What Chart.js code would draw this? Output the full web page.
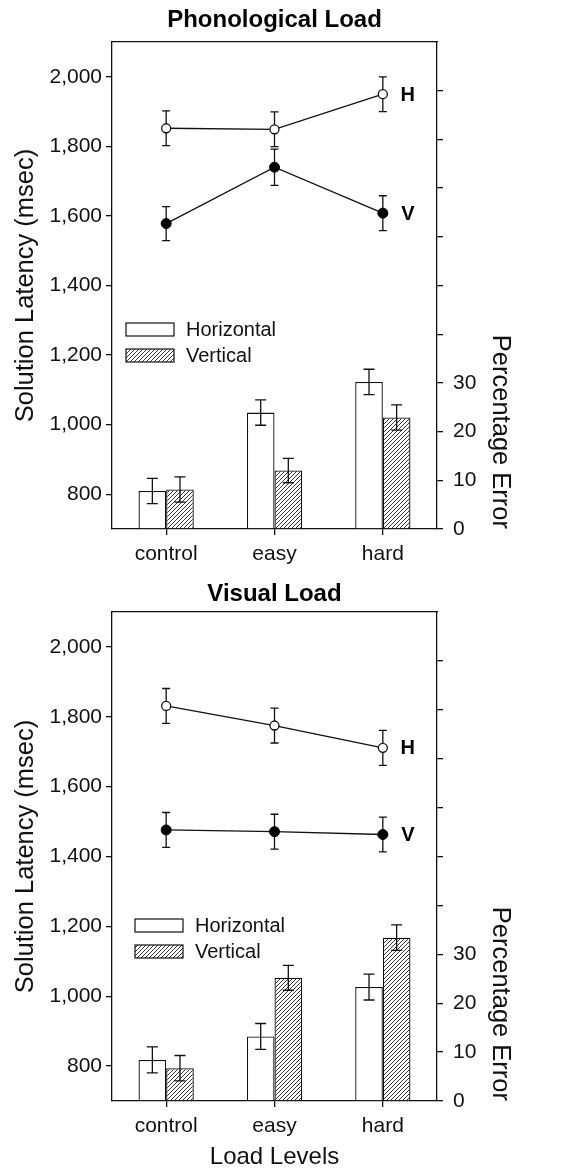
<!DOCTYPE html>
<html>
<head>
<meta charset="utf-8">
<script src="https://cdn.jsdelivr.net/npm/chart.js@4.4.1/dist/chart.umd.min.js"></script>
<style>
  html, body { margin: 0; padding: 0; background: #fff; }
  .panel { position: absolute; left: 0; width: 566px; }
  #top { top: 0; height: 575px; }
  #bottom { top: 575px; height: 598px; }
</style>
</head>
<body>
<div class="panel" id="top"><canvas id="phon" width="566" height="575"></canvas></div>
<div class="panel" id="bottom"><canvas id="vis" width="566" height="598"></canvas></div>
<script>
const CATEGORIES = ['control', 'easy', 'hard'];
const LATENCY_TICKS = [800, 1000, 1200, 1400, 1600, 1800, 2000];
const ERROR_TICKS = [0, 10, 20, 30, 40, 50, 60, 70, 80, 90];
const ERROR_LABELED = [0, 10, 20, 30];

// phonological load: latency (msec) and % error, with error bar half-widths
const PHON_LAT_H = [1852, 1849, 1950];
const PHON_LAT_H_SE = [50, 50, 50];
const PHON_LAT_V = [1578, 1740, 1608];
const PHON_LAT_V_SE = [49, 52, 50];
const PHON_ERR_H = [7.8, 23.9, 30.2];
const PHON_ERR_H_SE = [2.6, 2.6, 2.6];
const PHON_ERR_V = [8.1, 12.0, 22.9];
const PHON_ERR_V_SE = [2.6, 2.5, 2.6];

// visual load
const VIS_LAT_H = [1831, 1775, 1711];
const VIS_LAT_H_SE = [50, 50, 50];
const VIS_LAT_V = [1476, 1471, 1463];
const VIS_LAT_V_SE = [50, 50, 50];
const VIS_ERR_H = [8.4, 13.2, 23.3];
const VIS_ERR_H_SE = [2.65, 2.65, 2.65];
const VIS_ERR_V = [6.7, 25.2, 33.4];
const VIS_ERR_V_SE = [2.6, 2.55, 2.6];

const FONT = '"Liberation Sans", Arial, Helvetica, sans-serif';
const INK = '#111';
Chart.defaults.font.family = FONT;
Chart.defaults.color = INK;

function hatch(ctx) {
  const c = document.createElement('canvas');
  c.width = 4; c.height = 4;
  const g = c.getContext('2d');
  g.fillStyle = '#fff';
  g.fillRect(0, 0, 4, 4);
  g.strokeStyle = '#222';
  g.lineWidth = 0.9;
  g.beginPath();
  g.moveTo(-1, 5); g.lineTo(5, -1);
  g.moveTo(-1, 1); g.lineTo(1, -1);
  g.moveTo(3, 5); g.lineTo(5, 3);
  g.stroke();
  return ctx.createPattern(c, 'repeat');
}

function drawErr(chart, index, cap) {
  const ds = chart.data.datasets[index];
  if (!ds.errors) return;
  const meta = chart.getDatasetMeta(index);
  const scale = chart.scales[meta.yAxisID];
  const ctx = chart.ctx;
  ctx.save();
  ctx.strokeStyle = INK;
  ctx.lineWidth = 1.3;
  meta.data.forEach((el, i) => {
    const v = ds.data[i], e = ds.errors[i];
    const y1 = scale.getPixelForValue(v + e);
    const y2 = scale.getPixelForValue(v - e);
    ctx.beginPath();
    ctx.moveTo(el.x, y1); ctx.lineTo(el.x, y2);
    ctx.moveTo(el.x - cap / 2, y1); ctx.lineTo(el.x + cap / 2, y1);
    ctx.moveTo(el.x - cap / 2, y2); ctx.lineTo(el.x + cap / 2, y2);
    ctx.stroke();
  });
  ctx.restore();
}

// whiskers behind the line markers, on top of the bars
const errorBars = {
  id: 'errorBars',
  beforeDatasetDraw(chart, args) { if (args.meta.type === 'line') drawErr(chart, args.index, 8); },
  afterDatasetDraw(chart, args) { if (args.meta.type === 'bar') drawErr(chart, args.index, 11); }
};

// "H" / "V" next to the last point of each line
const endLabels = {
  id: 'endLabels',
  afterDatasetsDraw(chart) {
    const ctx = chart.ctx;
    chart.data.datasets.forEach((ds, i) => {
      if (!ds.endLabel) return;
      const meta = chart.getDatasetMeta(i);
      const p = meta.data[meta.data.length - 1];
      ctx.save();
      ctx.font = 'bold 20px ' + FONT;
      ctx.fillStyle = '#000';
      ctx.textAlign = 'center';
      ctx.textBaseline = 'middle';
      ctx.fillText(ds.endLabel, p.x + 25, p.y + 1);
      ctx.restore();
    });
  }
};

// legend for the bar series only, inside the plot
const boxLegend = {
  id: 'boxLegend',
  afterDraw(chart, args, opts) {
    const ctx = chart.ctx;
    const { left, top } = chart.chartArea;
    let y = top + opts.y;
    chart.data.datasets.forEach(ds => {
      if (ds.type !== 'bar') return;
      ctx.save();
      ctx.fillStyle = ds.backgroundColor;
      ctx.fillRect(left + opts.x, y, 48, 13);
      ctx.strokeStyle = INK;
      ctx.lineWidth = 1.2;
      ctx.strokeRect(left + opts.x, y, 48, 13);
      ctx.font = '20px ' + FONT;
      ctx.fillStyle = INK;
      ctx.textBaseline = 'middle';
      ctx.fillText(ds.label, left + opts.x + 60, y + 7);
      ctx.restore();
      y += 26;
    });
  }
};

function makeChart(id, p) {
  const ctx = document.getElementById(id).getContext('2d');
  const axisLine = { display: true, color: INK, width: 1.3 };
  return new Chart(ctx, {
    type: 'bar',
    data: {
      labels: CATEGORIES,
      datasets: [
        { type: 'line', label: 'H', endLabel: 'H', data: p.latH, errors: p.latHSe, xAxisID: 'x', yAxisID: 'y',
          borderColor: INK, borderWidth: 1.3, pointRadius: 4.5, pointBackgroundColor: '#fff',
          pointBorderColor: INK, pointBorderWidth: 1.3 },
        { type: 'line', label: 'V', endLabel: 'V', data: p.latV, errors: p.latVSe, xAxisID: 'x', yAxisID: 'y',
          borderColor: INK, borderWidth: 1.3, pointRadius: 5, pointBackgroundColor: '#000',
          pointBorderColor: '#000', pointBorderWidth: 1 },
        { type: 'bar', label: 'Horizontal', data: p.errH, errors: p.errHSe, xAxisID: 'x', yAxisID: 'y1',
          backgroundColor: '#fff', borderColor: INK, borderWidth: 1.3,
          categoryPercentage: 0.51, barPercentage: 1 },
        { type: 'bar', label: 'Vertical', data: p.errV, errors: p.errVSe, xAxisID: 'x', yAxisID: 'y1',
          backgroundColor: hatch(ctx), borderColor: INK, borderWidth: 1.3,
          categoryPercentage: 0.51, barPercentage: 1 }
      ]
    },
    options: {
      responsive: false,
      animation: false,
      layout: { padding: 0, autoPadding: false },
      plugins: {
        legend: { display: false },
        tooltip: { enabled: false },
        boxLegend: p.legend
      },
      scales: {
        x: {
          position: 'bottom', offset: true,
          grid: { display: true, drawOnChartArea: false, offset: false, tickLength: 6, color: INK, lineWidth: 1.3 },
          border: axisLine,
          ticks: { font: { size: 21 }, color: INK, padding: 7, maxRotation: 0 },
          title: { display: !!p.xTitle, text: p.xTitle || '', font: { size: 24 }, color: INK, padding: { top: 0, bottom: p.xTitlePad || 0 } },
          afterFit: s => { s.height = p.bottomH; }
        },
        xTop: {
          type: 'category', position: 'top', offset: true,
          grid: { display: false },
          ticks: { display: false },
          border: axisLine,
          title: { display: true, text: p.title, font: { size: 24, weight: 'bold' }, color: '#000', padding: { top: p.titlePad, bottom: 0 } },
          afterFit: s => { s.height = p.topH; }
        },
        y: {
          position: 'left', min: 700, max: 2100,
          afterBuildTicks: s => { s.ticks = LATENCY_TICKS.map(v => ({ value: v })); },
          grid: { display: true, drawOnChartArea: false, tickLength: 6, color: INK, lineWidth: 1.3 },
          border: axisLine,
          ticks: { font: { size: 21 }, color: INK, padding: 4, callback: v => v.toLocaleString('en-US') },
          title: { display: true, text: 'Solution Latency (msec)', font: { size: 25.5 }, color: INK, padding: { top: 11, bottom: 0 } },
          afterFit: s => { s.width = 112; }
        },
        y1: {
          position: 'right', min: 0, max: 100,
          afterBuildTicks: s => { s.ticks = ERROR_TICKS.map(v => ({ value: v })); },
          grid: { display: true, drawOnChartArea: false, tickLength: 6, color: INK, lineWidth: 1.3 },
          border: axisLine,
          ticks: { font: { size: 21 }, color: INK, padding: 10, callback: v => ERROR_LABELED.includes(v) ? String(v) : '' },
          title: { display: true, text: 'Percentage Error', align: 'start', font: { size: 25.5 }, color: INK, padding: { top: 50.5, bottom: 0 } },
          afterFit: s => { s.width = 129; }
        }
      }
    },
    plugins: [errorBars, endLabels, boxLegend]
  });
}

makeChart('phon', {
  title: 'Phonological Load', titlePad: 5.5, topH: 42, bottomH: 46,
  latH: PHON_LAT_H, latHSe: PHON_LAT_H_SE, latV: PHON_LAT_V, latVSe: PHON_LAT_V_SE,
  errH: PHON_ERR_H, errHSe: PHON_ERR_H_SE, errV: PHON_ERR_V, errVSe: PHON_ERR_V_SE,
  legend: { x: 14, y: 281 }
});

makeChart('vis', {
  title: 'Visual Load', titlePad: 4.5, topH: 37, bottomH: 72,
  xTitle: 'Load Levels', xTitlePad: 1,
  latH: VIS_LAT_H, latHSe: VIS_LAT_H_SE, latV: VIS_LAT_V, latVSe: VIS_LAT_V_SE,
  errH: VIS_ERR_H, errHSe: VIS_ERR_H_SE, errV: VIS_ERR_V, errVSe: VIS_ERR_V_SE,
  legend: { x: 23, y: 307 }
});
</script>
</body>
</html>
